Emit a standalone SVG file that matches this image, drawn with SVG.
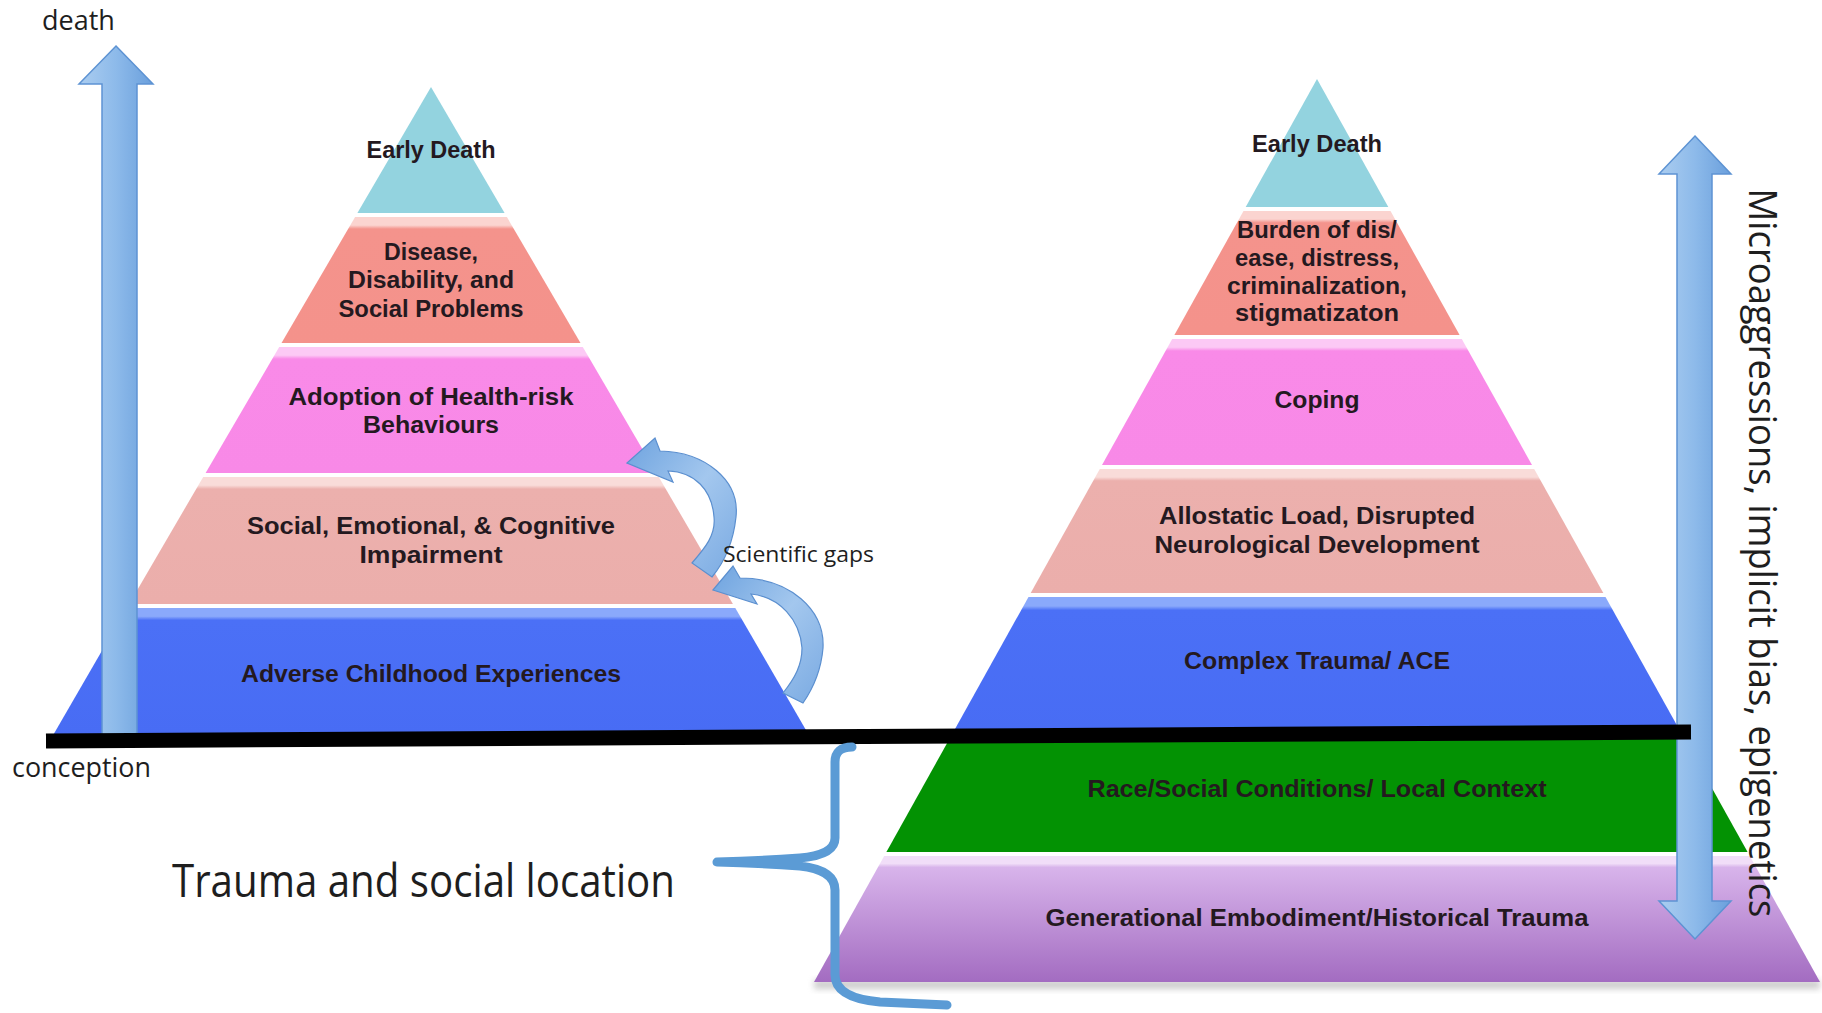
<svg xmlns="http://www.w3.org/2000/svg" width="1822" height="1013" viewBox="0 0 1822 1013">
<defs>
<style>
.lbl{font-family:"Liberation Sans",Arial,sans-serif;font-weight:700;fill:#24191f;text-anchor:middle;font-size:23px}
.plain{font-family:"Open Sans","Liberation Sans",sans-serif;fill:#1e1e1e}
.blk{fill:url(#gArrow);stroke:#5d93d3;stroke-width:1.5}
.curv{fill:url(#gCurve);stroke:#5b8fcf;stroke-width:1.2}
</style>
<linearGradient id="gArrow" x1="0" y1="0" x2="1" y2="0">
<stop offset="0" stop-color="#abcdf0"/><stop offset="0.5" stop-color="#8dbaea"/><stop offset="1" stop-color="#6a9fdc"/>
</linearGradient>
<linearGradient id="gCurve" x1="0" y1="0" x2="1" y2="1">
<stop offset="0" stop-color="#6ea3df"/><stop offset="0.5" stop-color="#a3c7ee"/><stop offset="1" stop-color="#7aaae2"/>
</linearGradient>
<linearGradient id="gSal" x1="0" y1="0" x2="0" y2="1">
<stop offset="0" stop-color="#fbd4d0"/><stop offset="0.065" stop-color="#fbd4d0"/><stop offset="0.095" stop-color="#f4938c"/><stop offset="1" stop-color="#f4928b"/>
</linearGradient>
<linearGradient id="gMag" x1="0" y1="0" x2="0" y2="1">
<stop offset="0" stop-color="#fcc9f5"/><stop offset="0.065" stop-color="#fcc9f5"/><stop offset="0.095" stop-color="#f98ae8"/><stop offset="1" stop-color="#f889e7"/>
</linearGradient>
<linearGradient id="gPale" x1="0" y1="0" x2="0" y2="1">
<stop offset="0" stop-color="#f9dcd9"/><stop offset="0.065" stop-color="#f9dcd9"/><stop offset="0.095" stop-color="#ecb0ad"/><stop offset="1" stop-color="#ebaeab"/>
</linearGradient>
<linearGradient id="gBlue" x1="0" y1="0" x2="0" y2="1">
<stop offset="0" stop-color="#8aa9fb"/><stop offset="0.065" stop-color="#8aa9fb"/><stop offset="0.095" stop-color="#4b70f6"/><stop offset="1" stop-color="#486cf4"/>
</linearGradient>
<linearGradient id="gPur" x1="0" y1="0" x2="0" y2="1">
<stop offset="0" stop-color="#f1def8"/><stop offset="0.06" stop-color="#f1def8"/><stop offset="0.09" stop-color="#d8b4eb"/><stop offset="1" stop-color="#a36cc1"/>
</linearGradient>
<filter id="blur" x="-5%" y="-50%" width="110%" height="200%"><feGaussianBlur stdDeviation="3"/></filter>
</defs>
<rect width="1822" height="1013" fill="#ffffff"/>

<!-- Left pyramid -->
<g id="left-early-death">
<polygon points="431,87 504.6,213 357.4,213" fill="#93d3df"/>
<text class="lbl" x="431" y="158" font-size="22" textLength="129" lengthAdjust="spacingAndGlyphs">Early Death</text>
</g>
<g id="left-disease">
<polygon points="355.1,217 506.9,217 580.5,343 281.5,343" fill="url(#gSal)"/>
<text class="lbl" x="431" y="260" textLength="94" lengthAdjust="spacingAndGlyphs">Disease,</text>
<text class="lbl" x="431" y="288" textLength="166" lengthAdjust="spacingAndGlyphs">Disability, and</text>
<text class="lbl" x="431" y="317" textLength="185" lengthAdjust="spacingAndGlyphs">Social Problems</text>
</g>
<g id="left-adoption">
<polygon points="279.2,347 582.8,347 656.4,473 205.6,473" fill="url(#gMag)"/>
<text class="lbl" x="431" y="405" textLength="285" lengthAdjust="spacingAndGlyphs">Adoption of Health-risk</text>
<text class="lbl" x="431" y="433" textLength="136" lengthAdjust="spacingAndGlyphs">Behaviours</text>
</g>
<g id="left-impairment">
<polygon points="203.2,477 658.8,477 732.9,604 129.1,604" fill="url(#gPale)"/>
<text class="lbl" x="431" y="534" textLength="368" lengthAdjust="spacingAndGlyphs">Social, Emotional, &amp; Cognitive</text>
<text class="lbl" x="431" y="563" textLength="143" lengthAdjust="spacingAndGlyphs">Impairment</text>
</g>
<g id="left-ace">
<polygon points="126.7,608 735.3,608 809.4,736 52.6,736" fill="url(#gBlue)"/>
<text class="lbl" x="431" y="682" textLength="380" lengthAdjust="spacingAndGlyphs">Adverse Childhood Experiences</text>
</g>

<!-- Right pyramid -->
<g id="right-early-death">
<polygon points="1317,79 1388.3,207 1245.7,207" fill="#93d3df"/>
<text class="lbl" x="1317" y="152" font-size="22" textLength="130" lengthAdjust="spacingAndGlyphs">Early Death</text>
</g>
<g id="right-burden">
<polygon points="1243.5,211 1390.5,211 1459.6,335 1174.4,335" fill="url(#gSal)"/>
<text class="lbl" x="1317" y="238" textLength="160" lengthAdjust="spacingAndGlyphs">Burden of dis/</text>
<text class="lbl" x="1317" y="266" textLength="164" lengthAdjust="spacingAndGlyphs">ease, distress,</text>
<text class="lbl" x="1317" y="294" textLength="180" lengthAdjust="spacingAndGlyphs">criminalization,</text>
<text class="lbl" x="1317" y="321" textLength="164" lengthAdjust="spacingAndGlyphs">stigmatizaton</text>
</g>
<g id="right-coping">
<polygon points="1172.2,339 1461.8,339 1532,465 1102,465" fill="url(#gMag)"/>
<text class="lbl" x="1317" y="408" textLength="85" lengthAdjust="spacingAndGlyphs">Coping</text>
</g>
<g id="right-allostatic">
<polygon points="1099.8,469 1534.2,469 1603.3,593 1030.7,593" fill="url(#gPale)"/>
<text class="lbl" x="1317" y="524" textLength="316" lengthAdjust="spacingAndGlyphs">Allostatic Load, Disrupted</text>
<text class="lbl" x="1317" y="553" textLength="325" lengthAdjust="spacingAndGlyphs">Neurological Development</text>
</g>
<g id="right-complex-trauma">
<polygon points="1028.5,597 1605.5,597 1682.9,736 951.1,736" fill="url(#gBlue)"/>
<text class="lbl" x="1317" y="669" textLength="266" lengthAdjust="spacingAndGlyphs">Complex Trauma/ ACE</text>
</g>
<g id="right-race">
<polygon points="951.1,736 1682.9,736 1747.6,852 886.4,852" fill="#039203"/>
<text class="lbl" x="1317" y="797" textLength="459" lengthAdjust="spacingAndGlyphs">Race/Social Conditions/ Local Context</text>
</g>
<g id="right-generational">
<rect x="814" y="980" width="1006" height="9" fill="#9a9a9a" opacity="0.5" filter="url(#blur)"/>
<polygon points="884.2,856 1749.8,856 1820,982 814,982" fill="url(#gPur)"/>
<text class="lbl" x="1317" y="926" textLength="543" lengthAdjust="spacingAndGlyphs">Generational Embodiment/Historical Trauma</text>
</g>

<!-- Connectors and annotations -->
<g id="connectors">
<polygon class="blk" points="116,46 153,84 137,84 137,735 102,735 102,84 79,84"/>
<polygon class="blk" points="1695,136 1731,174 1712,174 1712,901 1731,901 1695,939 1659,901 1677,901 1677,174 1659,174"/>
<path d="M46,741 L1691,732" stroke="#000" stroke-width="15" fill="none"/>
<path class="curv" d="M627,463 L655,438 L660,451 C705,452 740,480 736,517 C733,545 722,565 712,577 L692,563 C705,548 716,535 714,517 C712,490 695,472 668,471 L673,482 Z"/>
<path class="curv" d="M713,590 L733,566 L740,578 C790,578 825,610 823,648 C821,672 812,690 803,703 L783,693 C795,678 802,665 802,648 C800,620 780,597 751,594 L757,604 Z"/>
<path d="M852,747 Q835,747 835,762 L835,838 Q835,855 800,858 Q760,861 717,862 Q760,863 800,866 Q835,870 835,890 L835,975 Q835,998 880,1002 L947,1005" fill="none" stroke="#5b9bd5" stroke-width="9" stroke-linecap="round" stroke-linejoin="round"/>
</g>

<g id="labels">
<text class="plain" x="42" y="30" font-size="27">death</text>
<text class="plain" x="12" y="777" font-size="27" textLength="139" lengthAdjust="spacingAndGlyphs">conception</text>
<text class="plain" x="723" y="562" font-size="22" textLength="151" lengthAdjust="spacingAndGlyphs">Scientific gaps</text>
<text class="plain" x="172" y="897" font-size="46" textLength="503" lengthAdjust="spacingAndGlyphs">Trauma and social location</text>
<text class="plain" font-size="38" text-anchor="middle" textLength="729" lengthAdjust="spacingAndGlyphs" transform="translate(1749,553) rotate(90)">Microaggressions, implicit bias, epigenetics</text>
</g>
</svg>
